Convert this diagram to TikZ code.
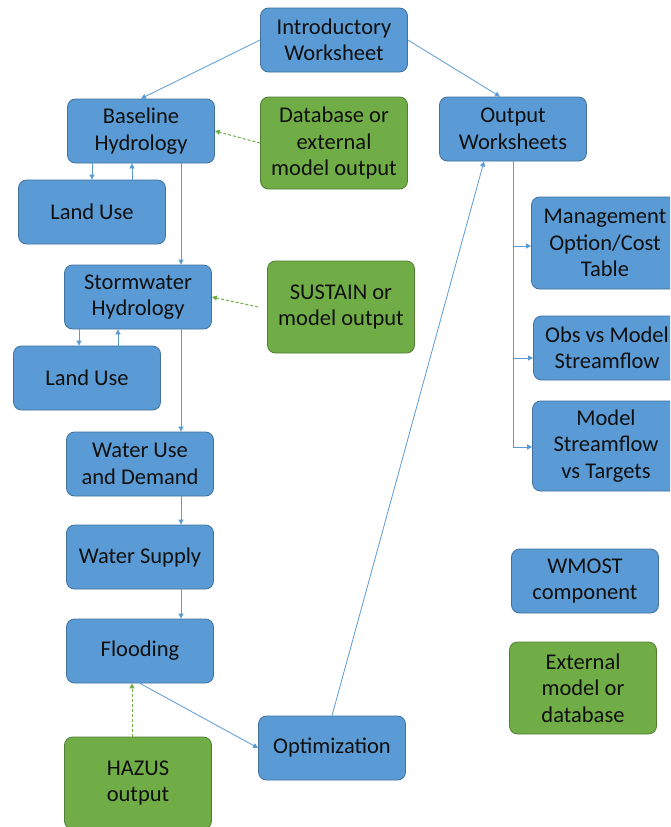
\documentclass[tikz,border=0pt]{standalone}
\usepackage{fontspec}
\setmainfont{Carlito}
\usetikzlibrary{arrows.meta,calc}
\definecolor{bfill}{HTML}{5B9BD5}
\definecolor{bdraw}{HTML}{41719C}
\definecolor{gfill}{HTML}{70AD47}
\definecolor{gdraw}{HTML}{507E32}
\definecolor{txt}{HTML}{101010}
\begin{document}
\begin{tikzpicture}[x=1pt,y=-1pt,
 box/.style={draw=bdraw, fill=bfill, line width=0.8pt, rounded corners=8pt,
   minimum width=147pt, minimum height=64pt, align=center,
   font=\fontsize{22.5}{26.5}\selectfont, text=txt, inner sep=0pt},
 gbox/.style={box, draw=gdraw, fill=gfill},
 tall/.style={minimum height=92pt},
 link/.style={draw=bfill, line width=0.8pt},
 arr/.style={link, -{Triangle[length=5pt,width=5pt]}},
 darr/.style={draw=gfill, line width=1pt, dash pattern=on 3pt off 2pt, -{Triangle[length=5pt,width=5pt]}}]
\useasboundingbox (0,0) rectangle (670,827);
\clip (0,0) rectangle (670,827);
\fill[white] (0,0) rectangle (670,827);
% column coordinates
\coordinate (c79) at (79,0);
\coordinate (c92) at (92,0);
\coordinate (c118) at (118,0);
\coordinate (c132) at (132,0);
\coordinate (c181) at (181,0);
\coordinate (r1) at (513,246);
\coordinate (r2) at (513,358);
\coordinate (r3) at (513,447);
% nodes
\node[box] (intro) at (334,40) {Introductory\\Worksheet};
\node[box] (base) at (141,131) {Baseline\\Hydrology};
\node[gbox,tall] (db) at (334,143) {Database or\\external\\model output};
\node[box] (lu1) at (92,212) {Land Use};
\node[box] (outw) at (513,129) {Output\\Worksheets};
\node[box] (storm) at (138,297) {Stormwater\\Hydrology};
\node[gbox,tall] (sus) at (341,307) {SUSTAIN or\\model output};
\node[box] (lu2) at (87,378) {Land Use};
\node[box] (wud) at (140,464) {Water Use\\and Demand};
\node[box] (ws) at (140,557) {Water Supply};
\node[box] (flood) at (140,651) {Flooding};
\node[gbox,tall] (hazus) at (138,783) {HAZUS\\output};
\node[box] (opt) at (332,748) {Optimization};
\node[box,tall] (mgmt) at (605,243) {Management\\Option/Cost\\Table};
\node[box] (obs) at (607,348) {Obs vs Model\\Streamflow};
\node[box,minimum height=90pt] (mst) at (606,446) {Model\\Streamflow\\vs Targets};
\node[box] (wmost) at (585,581) {WMOST\\component};
\node[gbox,tall] (ext) at (583,688) {External\\model or\\database};
% connectors
\draw[arr] (intro.west) -- (base.north);
\draw[arr] (intro.east) -- ([xshift=-13pt]outw.north);
\draw[darr] (db.west) -- (base.east);
\draw[arr] (base.south -| c92) -- (lu1.north -| c92);
\draw[arr] (lu1.north -| c132) -- (base.south -| c132);
\draw[arr] (base.south -| c181) -- (storm.north -| c181);
\draw[darr] ([xshift=-9pt]sus.west) -- (storm.east);
\draw[arr] (storm.south -| c79) -- (lu2.north -| c79);
\draw[arr] (lu2.north -| c118) -- (storm.south -| c118);
\draw[arr] (storm.south -| c181) -- (wud.north -| c181);
\draw[arr] (wud.south -| c181) -- (ws.north -| c181);
\draw[arr] (ws.south -| c181) -- (flood.north -| c181);
\draw[darr] (hazus.north -| c132) -- (flood.south -| c132);
\draw[arr] (flood.south) -- (opt.west);
\draw[arr] (opt.north) -- ([xshift=-29pt]outw.south);
\draw[link] (outw.south) -- (r3);
\draw[arr] (r1) -- (r1 -| mgmt.west);
\draw[arr] (r2) -- (r2 -| obs.west);
\draw[arr] (r3) -- (r3 -| mst.west);
\end{tikzpicture}
\end{document}
